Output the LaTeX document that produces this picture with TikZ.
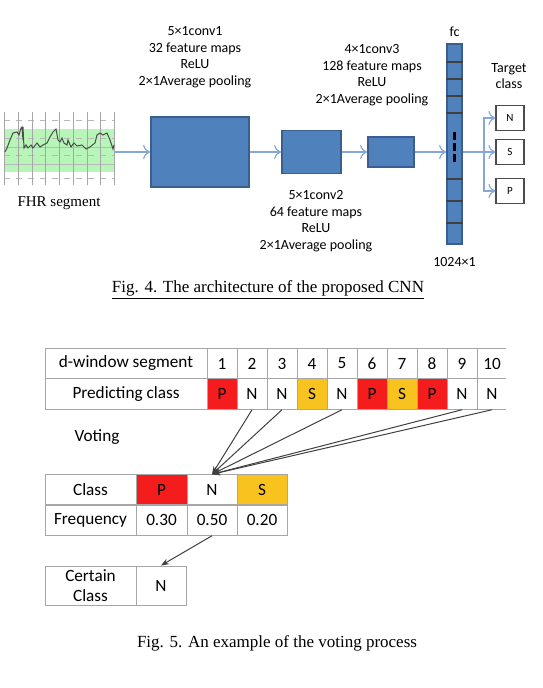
\documentclass[tikz,border=0pt]{standalone}
\usepackage{fontspec}
\setmainfont{Liberation Serif}
\newfontfamily\calibri{Carlito}
\usetikzlibrary{arrows.meta}
\newdimen\px \px=0.5pt
\definecolor{layerblue}{HTML}{4F81BD}
\definecolor{layeredge}{HTML}{3A5F8E}
\definecolor{flowblue}{HTML}{86A8D8}
\definecolor{gridgray}{HTML}{A6A6A6}
\definecolor{votered}{HTML}{F41C1C}
\definecolor{voteyellow}{HTML}{F9C31F}
\definecolor{fhrgreen}{HTML}{B8F5B8}
\tikzset{
  layer/.style={draw=layeredge, fill=layerblue, line width=0.9pt, inner sep=0pt},
  flow/.style={draw=flowblue, line width=0.6pt, -{To[length=3.5pt,width=7pt]}},
  outbox/.style={draw=black!70, line width=0.6pt, minimum width=28\px, minimum height=25\px,
    inner sep=0pt, font=\calibri\fontsize{5.5}{6}\selectfont},
  layertext/.style={font=\calibri\fontsize{7}{8.25}\selectfont, align=center, inner sep=0pt},
  cell/.style={draw=gridgray, line width=0.5pt, minimum width=30\px, minimum height=30.5\px,
    inner sep=0pt, font=\calibri\fontsize{8.6}{10}\selectfont, align=center},
  vote/.style={draw=black!75, line width=0.5pt, -{Stealth[length=4pt,width=3pt]}},
  caption/.style={font=\fontsize{8.5}{10}\selectfont, inner sep=0pt}
}
\begin{document}
\begin{tikzpicture}[x=1\px, y=-1\px]
  \useasboundingbox (0,0) rectangle (542,688);
  % FHR segment
  \fill[fhrgreen] (4,129) rectangle (115,172);
  \draw[gridgray!80, line width=0.3pt, dashed] (4,120) -- (115,120) (4,138) -- (115,138)
    (4,155) -- (115,155) (4,178) -- (115,178);
  \draw[gridgray!80, line width=0.3pt] (4,147) -- (115,147) (4,164) -- (115,164);
  \foreach \x in {4,18,32,45,59,73,87,100,114}
    \draw[gridgray, line width=0.4pt] (\x,112) -- (\x,185);
  \draw[black!70, line width=0.5pt] (5,152) -- (7,148) -- (10,140) -- (13,133) -- (17,132)
    -- (19,135) -- (21,128) -- (22,127) -- (23,140) -- (23,127) -- (24,148) -- (26,145)
    -- (28,148) -- (31,145) -- (33,148) -- (37,143) -- (40,147) -- (43,145) -- (47,143)
    -- (50,137) -- (53,132) -- (56,129) -- (58,140) -- (60,142) -- (62,138) -- (64,143)
    -- (67,145) -- (68,140) -- (71,147) -- (74,143) -- (77,146) -- (82,145) -- (86,149)
    -- (90,147) -- (95,143) -- (97,135) -- (100,133) -- (103,135) -- (107,133)
    -- (110,140) -- (113,149) -- (114,145);
  \coordinate (fhr) at (115,152);
  \node[font=\fontsize{7.5}{9}\selectfont] (fhrlabel) at (59,203) {FHR segment};

  % layers
  \node[layer, minimum width=98\px, minimum height=70\px] (conv1) at (200,152) {};
  \node[layer, minimum width=59\px, minimum height=43\px] (conv2) at (311.5,152) {};
  \node[layer, minimum width=46\px, minimum height=30\px] (conv3) at (391,152) {};
  \node[layer, minimum width=15\px, minimum height=200\px] (fc) at (454.5,144) {};
  \foreach \y in {62,79,96,113,179,201,223}
    \draw[black!75, line width=0.6pt] (fc.west |- 0,\y) -- (fc.east |- 0,\y);
  \draw[black, line width=1.6pt, dash pattern=on 8\px off 3\px] (454.5,132) -- (454.5,163);

  \node[layertext] (conv1text) at (195,57) {5×1conv1\\32 feature maps\\ReLU\\2×1Average pooling};
  \node[layertext] (conv2text) at (316,221) {5×1conv2\\64 feature maps\\ReLU\\2×1Average pooling};
  \node[layertext] (conv3text) at (372,75) {4×1conv3\\128 feature maps\\ReLU\\2×1Average pooling};
  \node[layertext] (fctext) at (454.5,32) {fc};
  \node[layertext] (sizetext) at (454.5,262) {1024×1};
  \node[layertext] (targettext) at (509,76) {Target\\class};

  % outputs
  \node[outbox] (outN) at (510,118) {N};
  \node[outbox] (outS) at (510,152) {S};
  \node[outbox] (outP) at (510,191) {P};
  \coordinate (branch) at (484,152);

  \draw[flow] (fhr) -- (conv1.west);
  \draw[flow] (conv1.east) -- (conv2.west);
  \draw[flow] (conv2.east) -- (conv3.west);
  \draw[flow] (conv3.east) -- (conv3.east -| fc.west);
  \draw[flow] (fc.east |- outS.west) -- (outS.west);
  \draw[flow] (branch) |- (outN.west);
  \draw[flow] (branch) |- (outP.west);

  \node[caption] (cap4) at (268,290) {\underline{Fig. 4. The architecture of the proposed CNN}};

  % voting table
  \node[cell, minimum width=162\px] (seghead) at (126,363.5) {d-window segment};
  \node[cell, minimum width=162\px] (predhead) at (126,394) {Predicting class};
  \foreach \i/\c/\f in {1/P/votered,2/N/white,3/N/white,4/S/voteyellow,5/N/white,
                        6/P/votered,7/S/voteyellow,8/P/votered,9/N/white,10/N/white} {
    \node[cell, fill=white] (seg\i) at (192+30*\i,363.5) {\i};
    \node[cell, fill=\f] (pred\i) at (192+30*\i,394) {\c};
  }
  % last column is open on the right
  \draw[white, line width=1.2pt] (seg10.north east) -- (pred10.south east);
  \node[font=\calibri\fontsize{8.6}{10}\selectfont] (votetext) at (97,437) {Voting};

  \node[cell, minimum width=91\px] (classhead) at (90.5,490) {Class};
  \node[cell, minimum width=51\px, fill=votered] (classP) at (161.5,490) {P};
  \node[cell, minimum width=50\px] (classN) at (212,490) {N};
  \node[cell, minimum width=50\px, fill=voteyellow] (classS) at (262,490) {S};
  \node[cell, minimum width=91\px] (freqhead) at (90.5,520) {Frequency};
  \node[cell, minimum width=51\px] (freqP) at (161.5,520) {0.30};
  \node[cell, minimum width=50\px] (freqN) at (212,520) {0.50};
  \node[cell, minimum width=50\px] (freqS) at (262,520) {0.20};

  \node[cell, minimum width=91\px, minimum height=39\px] (certhead) at (90.5,585.5) {Certain\\Class};
  \node[cell, minimum width=50\px, minimum height=39\px] (certN) at (161,585.5) {N};

  \foreach \i in {2,3,5,9,10}
    \draw[vote] (pred\i.south) -- (classN.north);
  \draw[vote] (freqN.south) -- (certN.north);

  \node[caption] (cap5) at (277,643) {Fig. 5. An example of the voting process};
\end{tikzpicture}
\end{document}
